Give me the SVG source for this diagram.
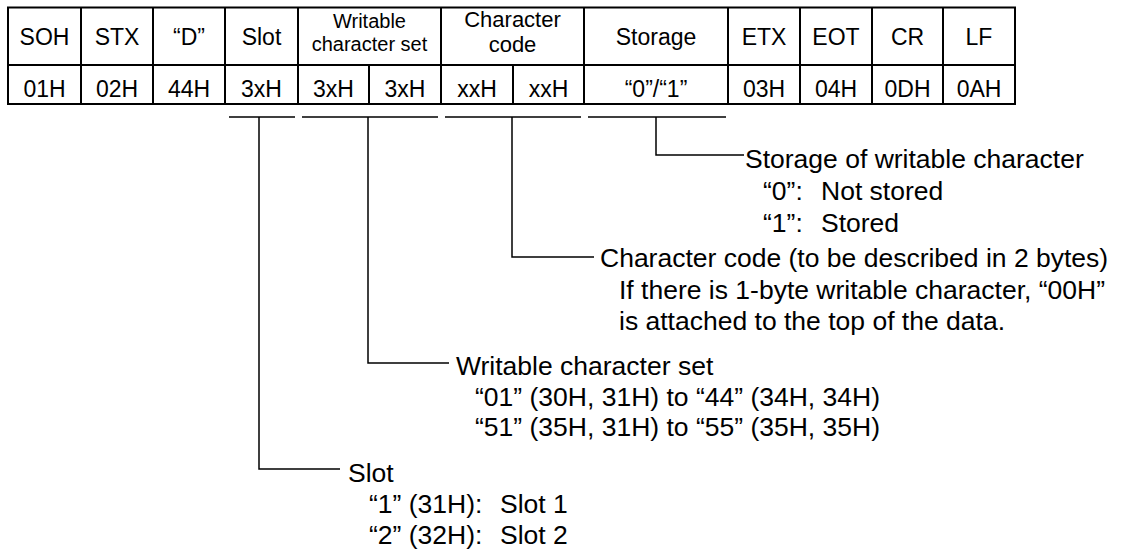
<svg xmlns="http://www.w3.org/2000/svg" width="1131" height="550" viewBox="0 0 1131 550">
<style>
.grid{stroke:#000;stroke-width:2;fill:none}
.lead{stroke:#000;stroke-width:1.5;fill:none}
text{font-family:"Liberation Sans",Arial,Helvetica,sans-serif;fill:#000}
.cell{font-size:23px;text-anchor:middle}
.hs{font-size:20px;text-anchor:middle}
.hc{font-size:22px;text-anchor:middle}
.note{font-size:26.5px}
</style>
<rect width="1131" height="550" fill="#fff"/>
<g id="table">
<rect class="grid" x="8" y="7.5" width="1007" height="96.5"/>
<path class="grid" d="M8 65H1015M81 7.5V104M153 7.5V104M225 7.5V104M298 7.5V104M441 7.5V104M584 7.5V104M728 7.5V104M800 7.5V104M872 7.5V104M943 7.5V104M369 65V104M513 65V104"/>
<g id="header">
<text class="cell" x="44.5" y="45">SOH</text>
<text class="cell" x="117" y="45">STX</text>
<text class="cell" x="189" y="45">“D”</text>
<text class="cell" x="261.5" y="45">Slot</text>
<text class="hs" x="369.5" y="28">Writable</text>
<text class="hs" x="369.5" y="50.5">character set</text>
<text class="hc" x="512.5" y="27">Character</text>
<text class="hc" x="512.5" y="51.8">code</text>
<text class="cell" x="656" y="45">Storage</text>
<text class="cell" x="764" y="45">ETX</text>
<text class="cell" x="836" y="45">EOT</text>
<text class="cell" x="907.5" y="45">CR</text>
<text class="cell" x="979" y="45">LF</text>
</g>
<g id="values">
<text class="cell" x="44.5" y="97">01H</text>
<text class="cell" x="117" y="97">02H</text>
<text class="cell" x="189" y="97">44H</text>
<text class="cell" x="261.5" y="97">3xH</text>
<text class="cell" x="333.5" y="97">3xH</text>
<text class="cell" x="405" y="97">3xH</text>
<text class="cell" x="477" y="97">xxH</text>
<text class="cell" x="548.5" y="97">xxH</text>
<text class="cell" x="656" y="97">“0”/“1”</text>
<text class="cell" x="764" y="97">03H</text>
<text class="cell" x="836" y="97">04H</text>
<text class="cell" x="907.5" y="97">0DH</text>
<text class="cell" x="979" y="97">0AH</text>
</g>
</g>
<g id="connectors">
<path class="lead" d="M229 117H295M302 117H438M445 117H581M588 117H726"/>
<path class="lead" d="M656 117V155H744"/>
<path class="lead" d="M512 117V257H594"/>
<path class="lead" d="M368 117V363H449"/>
<path class="lead" d="M259 117V469H340"/>
</g>
<g id="note-storage">
<text class="note" x="745" y="168">Storage of writable character</text>
<text class="note" y="200"><tspan x="763">“0”:</tspan><tspan x="821">Not stored</tspan></text>
<text class="note" y="232"><tspan x="763">“1”:</tspan><tspan x="821">Stored</tspan></text>
</g>
<g id="note-code">
<text class="note" x="600" y="267">Character code (to be described in 2 bytes)</text>
<text class="note" x="619" y="299">If there is 1-byte writable character, “00H”</text>
<text class="note" x="619" y="330">is attached to the top of the data.</text>
</g>
<g id="note-set">
<text class="note" x="456" y="375">Writable character set</text>
<text class="note" x="475" y="406">“01” (30H, 31H) to “44” (34H, 34H)</text>
<text class="note" x="475" y="436">“51” (35H, 31H) to “55” (35H, 35H)</text>
</g>
<g id="note-slot">
<text class="note" x="348" y="482">Slot</text>
<text class="note" y="513"><tspan x="369">“1” (31H):</tspan><tspan x="500">Slot 1</tspan></text>
<text class="note" y="544"><tspan x="369">“2” (32H):</tspan><tspan x="500">Slot 2</tspan></text>
</g>
</svg>
